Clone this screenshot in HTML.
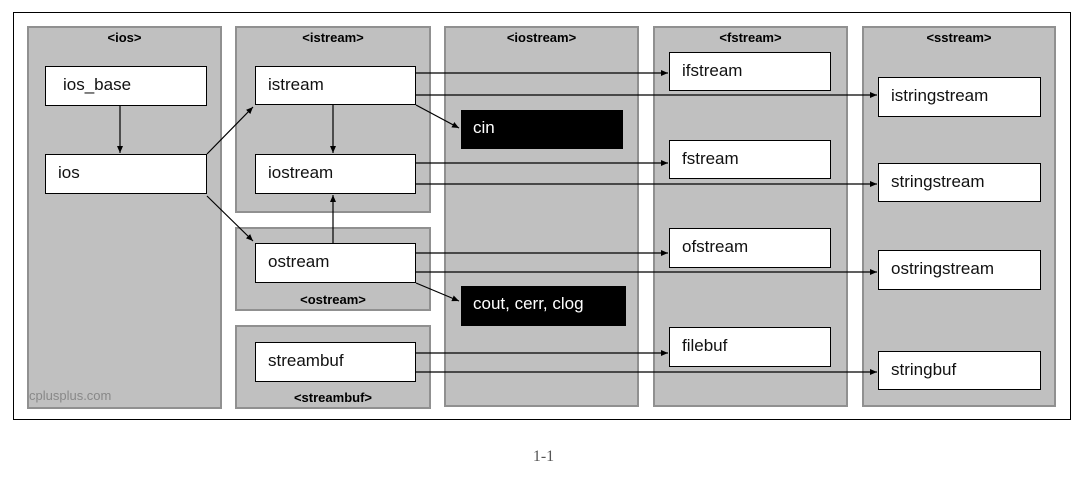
<!DOCTYPE html>
<html><head><style>
body{margin:0;width:1087px;height:480px;background:#fff;position:relative;font-family:"Liberation Sans",sans-serif;overflow:hidden}
.a{position:absolute}
.p{position:absolute;background:#c0c0c0;border:2px solid #909090;box-sizing:border-box}
.t{position:absolute;left:0;right:0;text-align:center;font-weight:bold;font-size:13px;color:#000}
.b{position:absolute;background:#fff;border:1px solid #000;box-sizing:border-box;font-size:17px;padding-left:12px;line-height:36px;color:#111}
.k{background:#000;color:#fff;border:none}
</style></head><body>
<div class="a" style="left:13px;top:12px;width:1058px;height:408px;border:1px solid #000;box-sizing:border-box"></div>
<div class="p" style="left:27px;top:26px;width:195px;height:383px"><div class="t" style="top:2px">&lt;ios&gt;</div><div class="a" style="left:0;bottom:4px;font-size:13px;color:#888">cplusplus.com</div></div>
<div class="p" style="left:235px;top:26px;width:196px;height:187px"><div class="t" style="top:2px">&lt;istream&gt;</div></div>
<div class="p" style="left:235px;top:227px;width:196px;height:84px"><div class="t" style="bottom:2px">&lt;ostream&gt;</div></div>
<div class="p" style="left:235px;top:325px;width:196px;height:84px"><div class="t" style="bottom:2px">&lt;streambuf&gt;</div></div>
<div class="p" style="left:444px;top:26px;width:195px;height:381px"><div class="t" style="top:2px">&lt;iostream&gt;</div></div>
<div class="p" style="left:653px;top:26px;width:195px;height:381px"><div class="t" style="top:2px">&lt;fstream&gt;</div></div>
<div class="p" style="left:862px;top:26px;width:194px;height:381px"><div class="t" style="top:2px">&lt;sstream&gt;</div></div>

<div class="b" style="left:45px;top:66px;width:162px;height:40px;padding-left:17px">ios_base</div>
<div class="b" style="left:45px;top:154px;width:162px;height:40px">ios</div>
<div class="b" style="left:255px;top:66px;width:161px;height:39px">istream</div>
<div class="b" style="left:255px;top:154px;width:161px;height:40px">iostream</div>
<div class="b" style="left:255px;top:243px;width:161px;height:40px">ostream</div>
<div class="b" style="left:255px;top:342px;width:161px;height:40px">streambuf</div>
<div class="b k" style="left:461px;top:110px;width:162px;height:39px">cin</div>
<div class="b k" style="left:461px;top:286px;width:165px;height:40px">cout, cerr, clog</div>
<div class="b" style="left:669px;top:52px;width:162px;height:39px">ifstream</div>
<div class="b" style="left:669px;top:140px;width:162px;height:39px">fstream</div>
<div class="b" style="left:669px;top:228px;width:162px;height:40px">ofstream</div>
<div class="b" style="left:669px;top:327px;width:162px;height:40px">filebuf</div>
<div class="b" style="left:878px;top:77px;width:163px;height:40px">istringstream</div>
<div class="b" style="left:878px;top:163px;width:163px;height:39px">stringstream</div>
<div class="b" style="left:878px;top:250px;width:163px;height:40px">ostringstream</div>
<div class="b" style="left:878px;top:351px;width:163px;height:39px">stringbuf</div>

<svg class="a" style="left:0;top:0" width="1087" height="480">
<defs><marker id="m" markerWidth="8" markerHeight="8" refX="7" refY="4" orient="auto" markerUnits="userSpaceOnUse"><path d="M0,1 L7,4 L0,7z" fill="#000"/></marker></defs>
<g stroke="#000" stroke-width="1.2" marker-end="url(#m)" fill="none">
<line x1="120" y1="106" x2="120" y2="153"/>
<line x1="333" y1="105" x2="333" y2="153"/>
<line x1="333" y1="243" x2="333" y2="195"/>
<line x1="207" y1="154" x2="253" y2="107"/>
<line x1="207" y1="196" x2="253" y2="241"/>
<line x1="416" y1="105" x2="459" y2="128"/>
<line x1="416" y1="283" x2="459" y2="301"/>
<line x1="416" y1="73" x2="668" y2="73"/>
<line x1="416" y1="95" x2="877" y2="95"/>
<line x1="416" y1="163" x2="668" y2="163"/>
<line x1="416" y1="184" x2="877" y2="184"/>
<line x1="416" y1="253" x2="668" y2="253"/>
<line x1="416" y1="272" x2="877" y2="272"/>
<line x1="416" y1="353" x2="668" y2="353"/>
<line x1="416" y1="372" x2="877" y2="372"/>
</g></svg>
<div class="a" style="left:0;width:1087px;top:448px;text-align:center;font-family:'Liberation Serif',serif;font-size:16px;color:#555">1-1</div>
</body></html>
